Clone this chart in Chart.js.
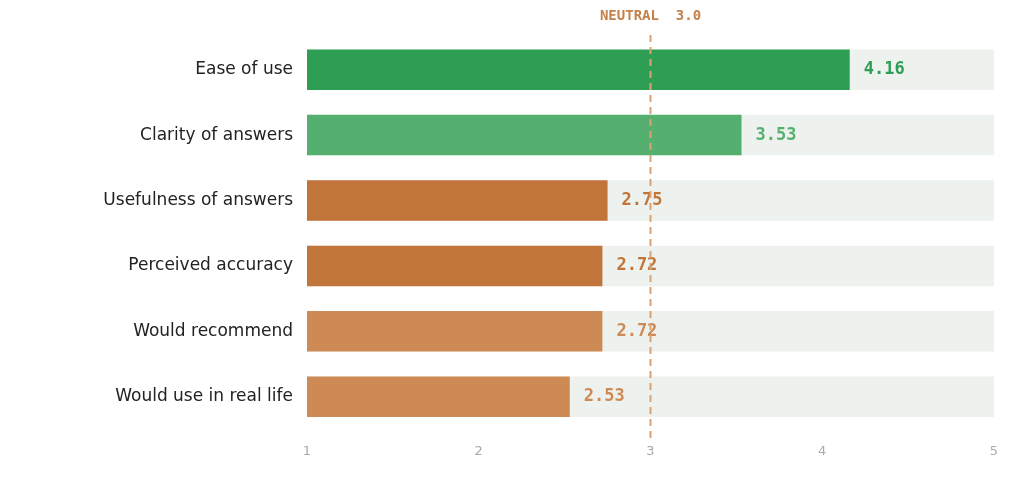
<!DOCTYPE html>
<html>
<head>
<meta charset="utf-8">
<script src="https://cdn.jsdelivr.net/npm/chart.js@4/dist/chart.umd.min.js"></script>
<style>
  html, body { margin: 0; padding: 0; background: #fff; }
  #wrap { width: 1024px; height: 487px; }
</style>
</head>
<body>
<div id="wrap"><canvas id="c"></canvas></div>
<script>
  /* ── DATA ─────────────────────────────── */
  const rows = [
    { label: 'Ease of use',             value: 4.16, color: '#2e9e55' },
    { label: 'Clarity of answers',      value: 3.53, color: '#55b06f' },
    { label: 'Usefulness of answers',   value: 2.75, color: '#c2753a' },
    { label: 'Perceived accuracy',      value: 2.72, color: '#c2753a' },
    { label: 'Would recommend',         value: 2.72, color: '#cd8a55' },
    { label: 'Would use in real life',  value: 2.53, color: '#cd8a55' },
  ];
  const NEUTRAL = 3.0;
  const MONO = '"DejaVu Sans Mono", monospace';

  /* ── OVERLAY: neutral line + value labels ── */
  const overlay = {
    id: 'overlay',
    afterDatasetsDraw(chart) {
      const { ctx, scales: { x, y } } = chart;
      const meta = chart.getDatasetMeta(1);
      ctx.save();
      ctx.font = 'bold 17px ' + MONO;
      ctx.textBaseline = 'middle';
      ctx.textAlign = 'left';
      rows.forEach((r, i) => {
        const bar = meta.data[i];
        ctx.fillStyle = r.color;
        ctx.fillText(r.value.toFixed(2), bar.x + 14, bar.y);
      });
      const nx = x.getPixelForValue(NEUTRAL);
      ctx.strokeStyle = '#d9a274';
      ctx.lineWidth = 2;
      ctx.setLineDash([7, 5]);
      ctx.beginPath();
      ctx.moveTo(nx, 35);
      ctx.lineTo(nx, 442);
      ctx.stroke();
      ctx.setLineDash([]);
      ctx.font = 'bold 14px ' + MONO;
      ctx.fillStyle = '#c2824a';
      ctx.textAlign = 'center';
      ctx.fillText('NEUTRAL  3.0', nx, 16);
      ctx.restore();
    }
  };

  new Chart(document.getElementById('c'), {
    type: 'bar',
    data: {
      labels: rows.map(r => r.label),
      datasets: [
        { data: rows.map(() => [1, 5]), backgroundColor: '#eef2ee', barPercentage: 0.62, categoryPercentage: 1, grouped: false, order: 2 },
        { data: rows.map(r => [1, r.value]), backgroundColor: rows.map(r => r.color), barPercentage: 0.62, categoryPercentage: 1, grouped: false, order: 1 },
      ]
    },
    options: {
      indexAxis: 'y',
      responsive: true,
      maintainAspectRatio: false,
      animation: false,
      layout: { padding: { top: 37, right: 30, bottom: 22, left: 0 } },
      plugins: { legend: { display: false }, tooltip: { enabled: false } },
      scales: {
        x: {
          min: 1, max: 5,
          grid: { display: false }, border: { display: false },
          ticks: { stepSize: 1, color: '#aaaaaa', font: { size: 13, family: 'DejaVu Sans' }, padding: 6 }
        },
        y: {
          grid: { display: false }, border: { display: false },
          afterFit: s => { s.width = 307; },
          ticks: { color: '#222', font: { size: 17, family: 'DejaVu Sans' }, padding: 6 }
        }
      }
    },
    plugins: [overlay]
  });
</script>
</body>
</html>
